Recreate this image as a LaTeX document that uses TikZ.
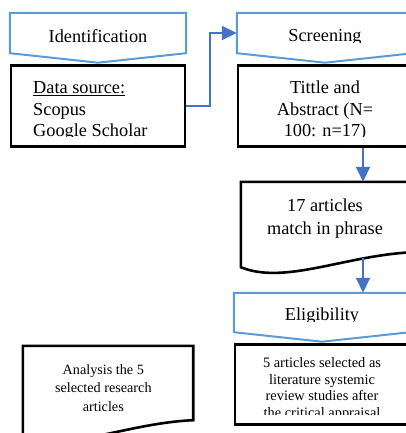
\documentclass[tikz,border=0pt]{standalone}
\usepackage{fontspec}
\setmainfont{Liberation Serif}
\usetikzlibrary{positioning}
\usetikzlibrary{arrows.meta}
\usetikzlibrary{calc}
\definecolor{bannerblue}{RGB}{91,155,213}
\definecolor{linkblue}{RGB}{68,114,196}

\begin{document}
\begin{tikzpicture}[x=1pt,y=-1pt]
\tikzset{banner/.style={rectangle,minimum width=176pt,minimum height=40pt,inner sep=0pt}}
\tikzset{bannerline/.style={draw=bannerblue,line width=2pt}}
\tikzset{framebox/.style={rectangle,draw,line width=2.6pt,minimum width=174pt,minimum height=81pt,inner sep=0pt}}
\tikzset{docbox/.style={rectangle,inner sep=0pt}}
\tikzset{bigtext/.style={font=\fontsize{18.3}{21.7}\selectfont,inner sep=0pt}}
\tikzset{smalltext/.style={font=\fontsize{14.4}{16.8}\selectfont,inner sep=0pt,align=center}}
\tikzset{link/.style={draw=linkblue,line width=1.7pt,-{Triangle[length=15pt,width=14pt]}}}
\clip (0,0) rectangle (406,433);
% stages
\node[banner] (ident) at (98,33) {};
\node[banner] (screen) at (325,33) {};
\node[banner,minimum height=39pt] (elig) at (322,312.5) {};
\foreach \b in {ident,screen,elig}
  \draw[bannerline] (\b.north west) -- (\b.north east) -- (\b.south east)
    -- ($(\b.south)+(0,9.5)$) -- (\b.south west) -- cycle;
\begin{scope}
\clip (0,0) rectangle (406,42.5);
\node[bigtext,anchor=base] (identtext) at (98,42.2) {Identification};
\node[bigtext,anchor=base] (screentext) at (325,41.5) {Screening};
\end{scope}
\begin{scope}
\clip (elig.north west) rectangle (406,321);
\node[bigtext,anchor=base] (eligtext) at (322,320.7) {Eligibility};
\end{scope}
% boxes
\node[framebox,below=11pt of ident] (source) {};
\node[framebox,below=11pt of screen] (title) {};
\node[framebox,below=11pt of elig,minimum height=80pt] (selected) {};
% multi-line texts sit on their last line
\begin{scope}
\clip (source.north west) rectangle ($(source.south east)+(0,-11)$);
\node[bigtext,anchor=base west,align=left] (sourcetext) at (33,136.7)
  {\underline{Data source:}\\Scopus\\Google Scholar};
\end{scope}
\begin{scope}
\clip (title.north west) rectangle ($(title.south east)+(0,-11)$);
\node[bigtext,anchor=base,align=center] (titletext) at (325,136.7)
  {Tittle and\\Abstract (N=\\100: n=17)};
\end{scope}
\begin{scope}
\clip (selected.north west) rectangle ($(selected.south east)+(0,-11)$);
\node[smalltext,anchor=base] (selectedtext) at (322,417.7)
  {5 articles selected as\\literature systemic\\review studies after\\the critical appraisal};
\end{scope}
% documents
\node[docbox,minimum width=172pt,minimum height=70pt] (found) at (327,217) {};
\node[docbox,minimum width=170pt,minimum height=74pt] (analysis) at (108,383) {};
\foreach \d in {found,analysis}
  \draw[line width=2.6pt] (\d.south east) -- (\d.north east) -- (\d.north west)
    -- ($(\d.south west)+(0,15)$) .. controls +(44,18) and +(-68,3) .. (\d.south east) -- cycle;
\begin{scope}
\clip (found.north west) rectangle (406,247);
\node[bigtext,anchor=base,align=center,font=\fontsize{18.3}{22.3}\selectfont] (foundtext) at (325,234)
  {17 articles\\match in phrase};
\end{scope}
\begin{scope}
\clip (analysis.north west) rectangle (406,410.5);
\node[smalltext,anchor=base,font=\fontsize{14.2}{18.7}\selectfont] (analysistext) at (103.3,411.4)
  {Analysis the 5\\selected research\\articles};
\end{scope}
% connectors
\draw[link] (source.east) -- ++(24,0) |- (screen.west);
\draw[link] ([xshift=38pt]title.south) -- ([xshift=38pt]title.south |- found.north);
\draw[link] ($(found.south)+(36,6)$) -- ($(elig.north)+(41,0)$);
\end{tikzpicture}
\end{document}
